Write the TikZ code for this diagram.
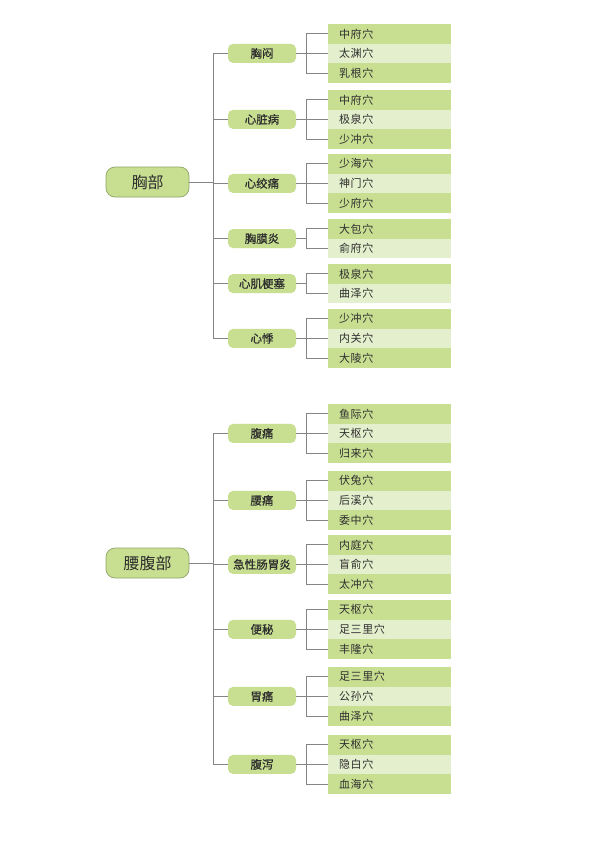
\documentclass[tikz,border=0pt]{standalone}
\usepackage{fontspec}
\setmainfont{Noto Sans CJK SC}
\newfontfamily\midfont[FakeBold=0.7]{Noto Sans CJK SC}
\newfontfamily\leaffont[LetterSpace=6]{Noto Sans CJK SC}
\definecolor{leafdark}{HTML}{C8DF92}
\definecolor{leaflight}{HTML}{E4EFCD}
\definecolor{midfill}{HTML}{C8DF92}
\definecolor{rootedge}{HTML}{8FA668}
\definecolor{linegray}{HTML}{858585}
\definecolor{txt}{HTML}{2E2E2E}
\tikzset{
  leaf/.style={rectangle, minimum width=123pt, minimum height=19.6pt, inner sep=0pt, text width=101pt, align=left, font=\leaffont\fontsize{11}{12}\selectfont, text=txt},
  mid/.style={rectangle, rounded corners=5pt, fill=midfill, minimum width=68pt, minimum height=19pt, inner sep=0pt, font=\midfont\fontsize{11.5}{12}\selectfont, text=txt},
  rootbox/.style={rectangle, rounded corners=9pt, fill=midfill, draw=rootedge, line width=0.7pt, minimum width=83pt, minimum height=30pt, inner sep=0pt, font=\fontsize{16}{18}\selectfont, text=txt},
  conn/.style={draw=linegray, line width=0.65pt}
}
\begin{document}
\begin{tikzpicture}[x=1pt,y=1pt]
\fill[white] (0,0) rectangle (595,-851);
\useasboundingbox (0,0) rectangle (595,-851);

% ---------- chest section ----------
\node[rootbox] (rootA) at (147.5,-182) {胸部};
\foreach \n/\top/\k/\lab/\leaves in {
  a1/24/3/胸闷/{中府穴,太渊穴,乳根穴},
  a2/90/3/心脏病/{中府穴,极泉穴,少冲穴},
  a3/154/3/心绞痛/{少海穴,神门穴,少府穴},
  a4/219/2/胸膜炎/{大包穴,俞府穴},
  a5/264/2/心肌梗塞/{极泉穴,曲泽穴},
  a6/309/3/心悸/{少冲穴,内关穴,大陵穴}}{
  \pgfmathsetmacro\cy{\top+\k*9.8}
  \node[mid] (m\n) at (262,-\cy) {\lab};
  \draw[conn] (rootA.east) -- ++(24,0) |- (m\n.west);
  \foreach \lf [count=\i] in \leaves {
    \pgfmathsetmacro\ly{\top+(\i-0.5)*19.6}
    \ifodd\i \def\lc{leafdark}\else\def\lc{leaflight}\fi
    \node[leaf, fill=\lc] (l\n-\i) at (389.5,-\ly) {\lf};
    \draw[conn] (m\n.east) -- ++(10,0) |- (l\n-\i.west);
  }
}

% ---------- waist/abdomen section ----------
\node[rootbox] (rootB) at (147.5,-563) {腰腹部};
\foreach \n/\top/\k/\lab/\leaves in {
  b1/404/3/腹痛/{鱼际穴,天枢穴,归来穴},
  b2/471/3/腰痛/{伏兔穴,后溪穴,委中穴},
  b3/535/3/急性肠胃炎/{内庭穴,盲俞穴,太冲穴},
  b4/600/3/便秘/{天枢穴,足三里穴,丰隆穴},
  b5/667/3/胃痛/{足三里穴,公孙穴,曲泽穴},
  b6/735/3/腹泻/{天枢穴,隐白穴,血海穴}}{
  \pgfmathsetmacro\cy{\top+\k*9.8}
  \node[mid] (m\n) at (262,-\cy) {\lab};
  \draw[conn] (rootB.east) -- ++(24,0) |- (m\n.west);
  \foreach \lf [count=\i] in \leaves {
    \pgfmathsetmacro\ly{\top+(\i-0.5)*19.6}
    \ifodd\i \def\lc{leafdark}\else\def\lc{leaflight}\fi
    \node[leaf, fill=\lc] (l\n-\i) at (389.5,-\ly) {\lf};
    \draw[conn] (m\n.east) -- ++(10,0) |- (l\n-\i.west);
  }
}
\end{tikzpicture}
\end{document}
